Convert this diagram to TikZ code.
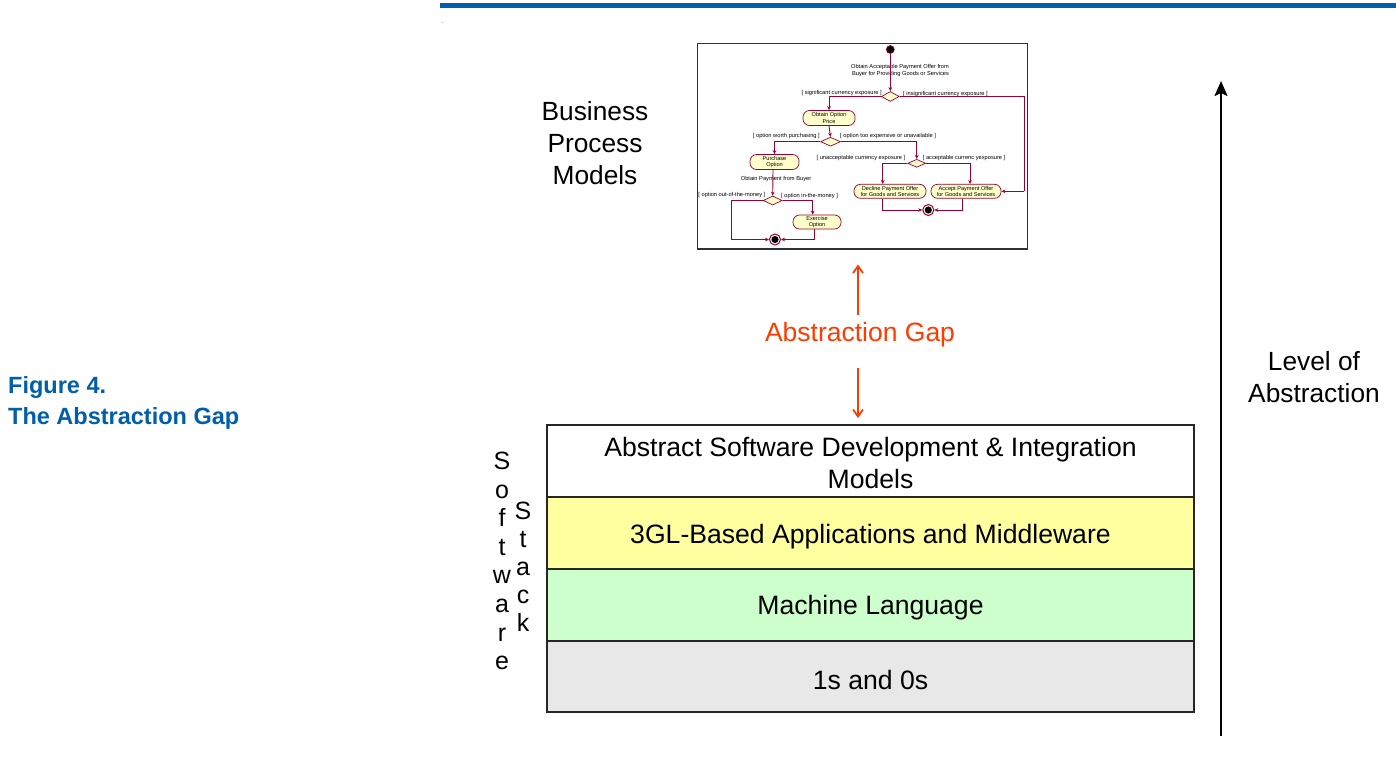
\documentclass[tikz,border=0pt]{standalone}
\usepackage{fontspec}
\setmainfont{Liberation Sans}
\usetikzlibrary{arrows.meta,shapes.geometric,calc}
\definecolor{capblue}{RGB}{0,94,170}
\definecolor{gapred}{RGB}{255,60,0}
\definecolor{umlred}{RGB}{153,0,51}
\definecolor{umlfill}{RGB}{255,255,204}
\definecolor{layyellow}{RGB}{255,255,160}
\definecolor{laygreen}{RGB}{204,255,204}
\definecolor{laygray}{RGB}{232,232,232}
\definecolor{framegray}{RGB}{50,50,50}
\begin{document}
\begin{tikzpicture}[x=1pt,y=-1pt,
  bigtext/.style={inner sep=0pt, align=center, font=\fontsize{26.3}{32}\selectfont},
  layer/.style={draw=black!85, line width=1.2pt, minimum width=647pt, minimum height=72pt, inner sep=0pt},
  laytext/.style={inner sep=0pt, align=center, yshift=-3pt, font=\fontsize{26.6}{32}\selectfont},
  act/.style={draw=umlred, fill=umlfill, line width=0.7pt, rounded corners=6.5pt, inner sep=0pt, align=center, font=\fontsize{5.6}{6.6}\selectfont},
  dia/.style={diamond, draw=umlred, fill=umlfill, line width=0.7pt, inner sep=0pt},
  lbl/.style={inner sep=0pt, font=\fontsize{5.7}{6.6}\selectfont},
  flow/.style={draw=umlred, line width=0.9pt, -{Stealth[length=4pt,width=3.6pt]}},
  startnode/.style={circle, fill=black, draw=umlred, line width=0.6pt, minimum size=8pt, inner sep=0pt},
  endnode/.style={circle, draw=umlred, fill=white, line width=1pt, minimum size=11pt, inner sep=0pt,
     path picture={\fill[black] (path picture bounding box.center) circle (3.6pt);}},
  gaparrow/.style={draw=gapred, line width=1.8pt, -{Straight Barb[length=7pt,width=10pt,line width=1.8pt]}},
  lvlarrow/.style={draw=black, line width=2pt, -{Stealth[length=15pt,width=13pt,inset=3pt]}}
]
\useasboundingbox (0,0) rectangle (1396,771);
% top rule
\fill[capblue] (440,2.7) rectangle (1396,8.3);
\node[inner sep=0pt, font=\fontsize{6}{6}\selectfont] (dot) at (443,23) {.};
% caption
\node[anchor=west, inner sep=0pt, align=left, text=capblue, font=\fontsize{23.5}{31}\selectfont\bfseries] (cap) at (8,403) {Figure 4.\\The Abstraction Gap};
% business process label
\node[bigtext] (bpm) at (595,143) {Business\\Process\\Models};
% activity diagram frame
\draw[framegray, line width=1.3pt] (697.5,43.5) rectangle (1027.5,249);
% nodes
\node[startnode] (s0) at (890.3,49.5) {};
\node[lbl] (t0) at (900,67) {Obtain Acceptable Payment Offer from};
\node[lbl] (t1) at (900.5,74.5) {Buyer for Providing Goods or Services};
\node[dia, minimum width=18pt, minimum height=10pt] (d1) at (890.3,96.5) {};
\node[lbl, anchor=east] (l1a) at (882,93.5) {[ significant currency exposure ]};
\node[lbl, anchor=west] (l1b) at (903,94) {[ insignificant currency exposure ]};
\node[act, minimum width=52pt, minimum height=15pt] (n1) at (829,118) {Obtain Option\\Price};
\node[dia, minimum width=20pt, minimum height=9pt] (d2) at (830.5,141.7) {};
\node[lbl, anchor=east] (l2a) at (820,136) {[ option worth purchasing ]};
\node[lbl, anchor=west] (l2b) at (840,136) {[ option too expensive or unavailable ]};
\node[act, minimum width=49pt, minimum height=15pt] (n2) at (774.5,162) {Purchase\\Option};
\node[dia, minimum width=18pt, minimum height=8pt] (d3) at (916.7,163.3) {};
\node[lbl, anchor=east] (l3a) at (905.5,158.3) {[ unacceptable currency exposure ]};
\node[lbl, anchor=west] (l3b) at (922.7,158.3) {[ acceptable currenc yexposure ]};
\node[act, minimum width=72pt, minimum height=14pt] (n3) at (890,191.3) {Decline Payment Offer\\for Goods and Services};
\node[act, minimum width=70pt, minimum height=14pt] (n4) at (966,191.3) {Accept Payment Offer\\for Goods and Services};
\node[endnode] (e1) at (928.3,210) {};
\node[lbl] (t2) at (776,179.3) {Obtain Payment from Buyer};
\node[dia, minimum width=19pt, minimum height=9pt] (d4) at (772.7,200.5) {};
\node[lbl, anchor=east] (l4a) at (765.5,195) {[ option out-of-the-money ]};
\node[lbl, anchor=west] (l4b) at (781,196) {[ option in-the-money ]};
\node[act, minimum width=48pt, minimum height=14pt] (n5) at (817,222) {Exercise\\Option};
\node[endnode] (e2) at (775,239.5) {};
% activity connectors
\coordinate (rb) at (1024.3,96.5);
\coordinate (rc) at (1024.3,191.3);
\draw[flow] (s0) -- (d1.north);
\draw[flow] (d1.west) -| (n1.north);
\draw[umlred, line width=0.9pt] (d1.east) -- (rb) -- (rc);
\draw[flow] (rc) -- (n4.east);
\draw[flow] (n1.south) -- (d2.north);
\draw[flow] (d2.west) -| (n2.north);
\draw[flow] (d2.east) -| (d3.north);
\draw[flow] (d3.west) -| (n3.north -| 882.7,0);
\draw[flow] (d3.east) -| (n4.north -| 970,0);
\draw[flow] (n3.south -| 882.7,0) |- (e1.west);
\draw[flow] (n4.south -| 962.7,0) |- (e1.east);
\draw[flow] (n2.south -| 773,0) -- (d4.north);
\draw[flow] (d4.west) -| (731,239.5) -- (e2.west);
\draw[flow] (d4.east) -| (n5.north -| 812.7,0);
\draw[flow] (n5.south -| 814.3,0) |- (e2.east);
% abstraction gap
\node[inner sep=0pt, text=gapred, font=\fontsize{26.5}{30}\selectfont] (gap) at (860,335) {Abstraction Gap};
\coordinate (gu0) at (858,315);
\coordinate (gu1) at (858,264.5);
\coordinate (gd0) at (858,368);
\coordinate (gd1) at (858,418);
\draw[gaparrow] (gu0) -- (gu1);
\draw[gaparrow] (gd0) -- (gd1);
% software stack
\node[layer, fill=white] (ly1) at (870.5,461) {};
\node[layer, fill=layyellow] (ly2) at (870.5,533) {};
\node[layer, fill=laygreen] (ly3) at (870.5,605) {};
\node[layer, fill=laygray, minimum height=71pt] (ly4) at (870.5,676.5) {};
\node[laytext, yshift=1pt] (ly1t) at (ly1.center) {Abstract Software Development \& Integration\\Models};
\node[laytext, yshift=-1pt] (ly2t) at (ly2.center) {3GL-Based Applications and Middleware};
\node[laytext] (ly3t) at (ly3.center) {Machine Language};
\node[laytext] (ly4t) at (ly4.center) {1s and 0s};
\node[inner sep=0pt, align=center, font=\fontsize{25}{28.6}\selectfont] (sw) at (502,561) {S\\o\\f\\t\\w\\a\\r\\e};
\node[inner sep=0pt, align=center, font=\fontsize{25}{28}\selectfont] (st) at (523,567) {S\\t\\a\\c\\k};
% level of abstraction
\coordinate (lv0) at (1221,736);
\coordinate (lv1) at (1221,81);
\draw[lvlarrow] (lv0) -- (lv1);
\node[bigtext] (lvl) at (1314,377) {Level of\\Abstraction};
\end{tikzpicture}
\end{document}
